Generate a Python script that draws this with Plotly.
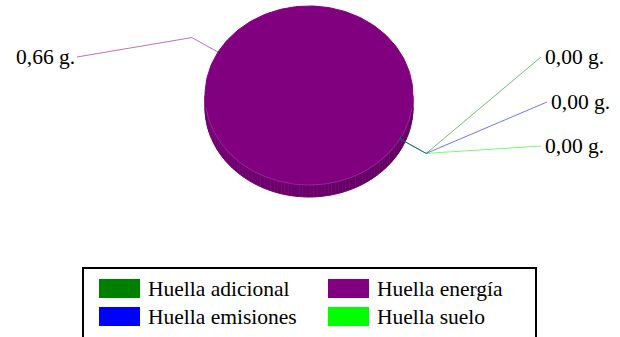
import numpy as np
import plotly.graph_objects as go

# ---------------- data ----------------
categories = ["Huella adicional", "Huella energía", "Huella emisiones", "Huella suelo"]
values = [0.0, 0.66, 0.0, 0.0]
colors = ["#008000", "#800080", "#0000FF", "#00FF00"]
unit = " g."

# ---------------- layout constants ----------------
W, H = 620, 337
CX, CY, RX, RY, DEPTH = 309, 95.5, 104, 89.5, 12
START = 29.0          # start angle in degrees (screen, clockwise)
ELBOW = 30            # leader elbow distance
FONT = "Liberation Serif"
FS = 21.5
PAD = 3               # annotation inner padding

# visible text edge (x, y, xanchor) per category
label_pos = {
    "Huella adicional": (546, 57, "left"),
    "Huella energía": (74, 57, "right"),
    "Huella emisiones": (552, 102, "left"),
    "Huella suelo": (546, 146, "left"),
}
leader_order = ["Huella energía", "Huella adicional", "Huella suelo", "Huella emisiones"]

# legend layout
LEG_BOX = (83, 268, 536, 345)
LEG_COLS = [99, 328]
LEG_ROWS = [279, 307]
SW_W, SW_H = 41, 19
TXT_OFF = 50


def hex_rgb(h):
    h = h.lstrip("#")
    return tuple(int(h[i:i + 2], 16) for i in (0, 2, 4))


def pt(a, dy=0.0):
    r = np.radians(a)
    return CX + RX * np.cos(r), CY + RY * np.sin(r) + dy


fig = go.Figure()

total = sum(values)
slices = []
ang = START
for c, v, col in zip(categories, values, colors):
    span = 360.0 * v / total
    slices.append((c, v, col, ang, ang + span))
    ang += span

# ---- side (depth) ----
for c, v, col, s0, s1 in slices:
    if s1 - s0 <= 0:
        continue
    rgb = hex_rgb(col)
    for k in (0, 360, 720):
        a0, a1 = max(s0, k), min(s1, k + 180)
        if a1 <= a0:
            continue
        n = max(2, int((a1 - a0) / 2))
        edges = np.linspace(a0, a1, n + 1)
        for a, b in zip(edges[:-1], edges[1:]):
            arc = np.linspace(a, b, 4)
            xs_t, ys_t = pt(arc)
            xs_b, ys_b = pt(arc[::-1], DEPTH)
            m = np.radians((a + b) / 2)
            f = 0.84 - 0.06 * np.cos(m)
            shade = "rgb(%d,%d,%d)" % tuple(int(ch * f) for ch in rgb)
            fig.add_trace(go.Scatter(
                x=np.concatenate([xs_t, xs_b]), y=np.concatenate([ys_t, ys_b]),
                fill="toself", fillcolor=shade, mode="lines",
                line=dict(color=shade, width=1),
                hoverinfo="skip", showlegend=False))

# ---- top face ----
for c, v, col, s0, s1 in slices:
    if s1 - s0 <= 0:
        continue
    arc = np.linspace(s0, s1, 240)
    xs, ys = pt(arc)
    if s1 - s0 < 359.999:
        xs = np.concatenate([[CX], xs, [CX]])
        ys = np.concatenate([[CY], ys, [CY]])
    fig.add_trace(go.Scatter(
        x=xs, y=ys, fill="toself", fillcolor=col, mode="lines",
        line=dict(color=col, width=1),
        hoverinfo="skip", showlegend=False, name=c))

# front edge highlight of top face
arc = np.linspace(8, 172, 120)
xs, ys = pt(arc)
fig.add_trace(go.Scatter(x=xs, y=ys, mode="lines",
                         line=dict(color="rgba(255,255,255,0.15)", width=1),
                         hoverinfo="skip", showlegend=False))

# ---- leader lines and labels ----
sl = {s[0]: s for s in slices}
for name in leader_order:
    c, v, col, s0, s1 = sl[name]
    m = (s0 + s1) / 2
    rx_, ry_ = pt(m)
    r = np.radians(m)
    ex, ey = rx_ + ELBOW * np.cos(r), ry_ + ELBOW * np.sin(r)
    lx, ly, xa = label_pos[c]
    if xa == "left":
        endx, ax = lx - 5, lx - PAD
    else:
        endx, ax = lx + 3, lx + PAD
    rgb = hex_rgb(col)
    fig.add_trace(go.Scatter(
        x=[rx_, ex, endx], y=[ry_, ey, ly], mode="lines",
        line=dict(color="rgba(%d,%d,%d,0.55)" % rgb, width=1),
        hoverinfo="skip", showlegend=False))
    txt = ("%.2f" % v).replace(".", ",") + unit
    fig.add_annotation(x=ax, y=ly, xref="x", yref="y", text=txt,
                       showarrow=False, xanchor=xa, yanchor="middle",
                       font=dict(family=FONT, size=FS, color="black"))

# ---- legend (2 x 2 grid) ----
shapes = [dict(type="rect", xref="x", yref="y",
               x0=LEG_BOX[0], y0=LEG_BOX[1], x1=LEG_BOX[2], y1=LEG_BOX[3],
               line=dict(color="black", width=2), fillcolor="rgba(0,0,0,0)")]
for i, idx in enumerate(range(len(categories))):
    cx0 = LEG_COLS[i % 2]
    cy0 = LEG_ROWS[i // 2]
    shapes.append(dict(type="rect", xref="x", yref="y",
                       x0=cx0, y0=cy0, x1=cx0 + SW_W, y1=cy0 + SW_H,
                       line=dict(width=0), fillcolor=colors[idx]))
    fig.add_annotation(x=cx0 + TXT_OFF - PAD, y=cy0 + SW_H / 2, xref="x", yref="y",
                       text=categories[idx], showarrow=False,
                       xanchor="left", yanchor="middle",
                       font=dict(family=FONT, size=FS, color="black"))

fig.update_layout(
    width=W, height=H, margin=dict(l=0, r=0, t=0, b=0),
    paper_bgcolor="white", plot_bgcolor="white",
    shapes=shapes, showlegend=False,
    font=dict(family=FONT),
    xaxis=dict(range=[0, W], visible=False, fixedrange=True),
    yaxis=dict(range=[H, 0], visible=False, fixedrange=True),
)

fig.write_html("out.html")
